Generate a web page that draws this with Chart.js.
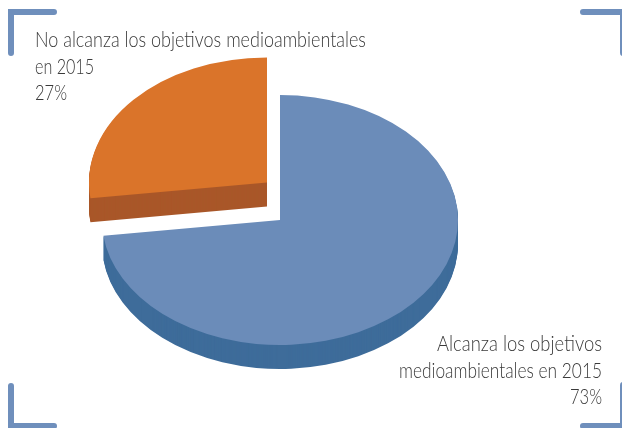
<!DOCTYPE html>
<html><head><meta charset="utf-8">
<style>html,body{margin:0;padding:0;background:#fff}#w{position:relative;width:622px;height:428px}</style>
<script src="https://cdn.jsdelivr.net/npm/chart.js@4"></script></head>
<body><div id="w"><canvas id="c" width="622" height="428"></canvas></div>
<script>
const categories = ["Alcanza los objetivos medioambientales en 2015", "No alcanza los objetivos medioambientales en 2015"];
const values = [73, 27];
const topColors = ["#6b8cb9", "#da742a"];
const rimColors = ["#3e6c9a", "#a95729"];
const labelLines = [
  ["Alcanza los objetivos", "medioambientales en 2015", "73%"],
  ["No alcanza los objetivos medioambientales", "en 2015", "27%"]
];
const labelWidths = [[165, 203, 32], [331, 59, 32]];
const view = {squash: 125/178, depth: 24, centers: [[280,220],[267,182.5]]};
const frame = {color:"#6f8fbc", w:6, len:46};

const pie3d = {
  id:"pie3d",
  beforeDatasetDraw(chart, args){
    const ctx = chart.ctx, els = args.meta.data;
    [1,0].forEach(i=>{
      const el = els[i], o = el.options, [cx,cy] = view.centers[i];
      const paint = (dy,color)=>{
        ctx.save();
        ctx.translate(cx, cy+dy);
        ctx.scale(1, view.squash);
        ctx.translate(-el.x, -el.y);
        el.options = Object.assign({}, o, {backgroundColor:color});
        el.draw(ctx);
        el.options = o;
        ctx.restore();
      };
      for(let d=view.depth; d>=1; d--) paint(d, rimColors[i]);
      paint(0, topColors[i]);
    });
    return false;
  },
  afterDraw(chart){
    const ctx = chart.ctx;
    ctx.save();
    ctx.strokeStyle = frame.color; ctx.lineWidth = frame.w; ctx.lineCap = "round"; ctx.lineJoin="miter";
    const L=11,T=12,R=623,B=426,l=frame.len,v=41;
    [[[L,T+v],[L,T],[L+l-3,T]],[[L,B-v+1],[L,B],[L+l-3,B]],[[R-40,T],[R,T],[R,T+v]],[[R-40,B],[R,B],[R,B-v]]].forEach(p=>{
      ctx.beginPath();ctx.moveTo(...p[0]);ctx.lineTo(...p[1]);ctx.lineTo(...p[2]);ctx.stroke();
    });
    ctx.fillStyle = "#3a3a3a";
    ctx.font = "300 22px Lato";
    ctx.textBaseline = "alphabetic";
    const line = (t,w,x,y,align)=>{
      ctx.save();
      ctx.translate(x,y);
      ctx.scale(w/ctx.measureText(t).width,1);
      ctx.textAlign = align;
      ctx.fillText(t,0,0);
      ctx.restore();
    };
    labelLines[1].forEach((t,i)=>line(t,labelWidths[1][i],35,47+i*26.5,"left"));
    labelLines[0].forEach((t,i)=>line(t,labelWidths[0][i],602,351+i*26.5,"right"));
    ctx.restore();
  }
};

new Chart(document.getElementById("c"),{
  type:"pie",
  data:{labels:categories,datasets:[{data:values,backgroundColor:topColors,borderWidth:0,hoverOffset:0}]},
  options:{responsive:false,animation:false,layout:{padding:{top:36,bottom:36}},
    plugins:{legend:{display:false},tooltip:{enabled:false}}},
  plugins:[pie3d]
});
</script></body></html>
